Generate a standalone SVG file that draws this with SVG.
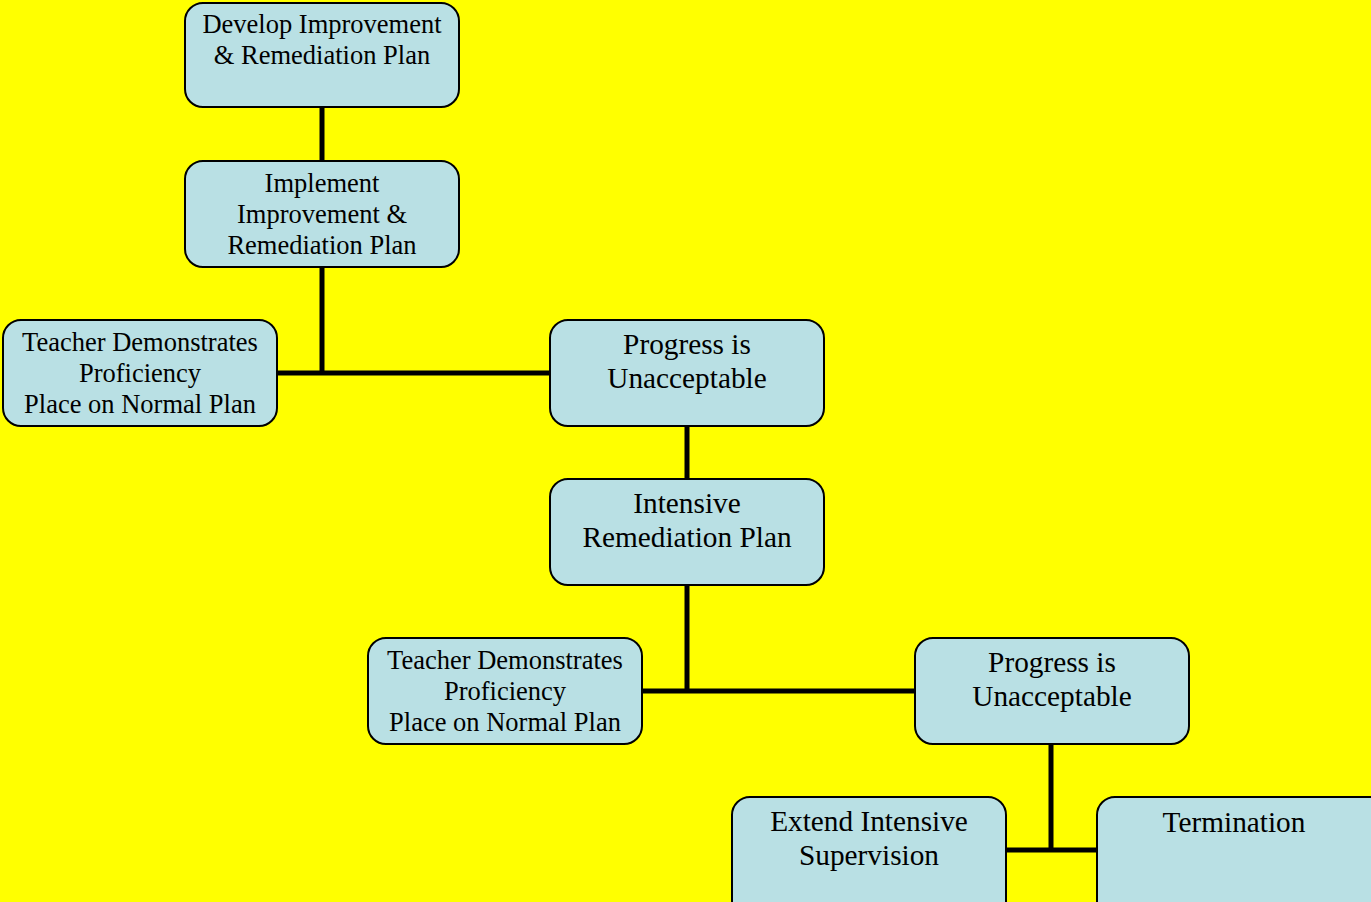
<svg xmlns="http://www.w3.org/2000/svg" width="1371" height="902" viewBox="0 0 1371 902">
<style>
.box{fill:#B9E0E4;stroke:#000;stroke-width:2}
.t{font-family:"Liberation Serif","Times New Roman",serif;fill:#000;text-anchor:middle}
.s{font-size:26.5px}
.l{font-size:29.3px}
.c{stroke:#000;stroke-width:5;fill:none}
</style>
<rect width="1371" height="902" fill="#FFFF00"/>
<g id="connectors">
<path class="c" d="M322 107V161M322 267V373M277 373H550"/>
<path class="c" d="M687 426V479M687 585V691M642 691H915"/>
<path class="c" d="M1051 744V850M1006 850H1097"/>
</g>
<g id="develop">
<rect class="box" x="185" y="3" width="274" height="104" rx="18"/>
<text class="t s" x="322" y="33">Develop Improvement</text>
<text class="t s" x="322" y="64">&amp; Remediation Plan</text>
</g>
<g id="implement">
<rect class="box" x="185" y="161" width="274" height="106" rx="18"/>
<text class="t s" x="322" y="192">Implement</text>
<text class="t s" x="322" y="223">Improvement &amp;</text>
<text class="t s" x="322" y="254">Remediation Plan</text>
</g>
<g id="teacher1">
<rect class="box" x="3" y="320" width="274" height="106" rx="18"/>
<text class="t s" x="140" y="351">Teacher Demonstrates</text>
<text class="t s" x="140" y="382">Proficiency</text>
<text class="t s" x="140" y="413">Place on Normal Plan</text>
</g>
<g id="progress1">
<rect class="box" x="550" y="320" width="274" height="106" rx="18"/>
<text class="t l" x="687" y="354">Progress is</text>
<text class="t l" x="687" y="388">Unacceptable</text>
</g>
<g id="intensive">
<rect class="box" x="550" y="479" width="274" height="106" rx="18"/>
<text class="t l" x="687" y="513">Intensive</text>
<text class="t l" x="687" y="547">Remediation Plan</text>
</g>
<g id="teacher2">
<rect class="box" x="368" y="638" width="274" height="106" rx="18"/>
<text class="t s" x="505" y="669">Teacher Demonstrates</text>
<text class="t s" x="505" y="700">Proficiency</text>
<text class="t s" x="505" y="731">Place on Normal Plan</text>
</g>
<g id="progress2">
<rect class="box" x="915" y="638" width="274" height="106" rx="18"/>
<text class="t l" x="1052" y="672">Progress is</text>
<text class="t l" x="1052" y="706">Unacceptable</text>
</g>
<g id="extend">
<rect class="box" x="732" y="797" width="274" height="125" rx="18"/>
<text class="t l" x="869" y="831">Extend Intensive</text>
<text class="t l" x="869" y="865">Supervision</text>
</g>
<g id="termination">
<rect class="box" x="1097" y="797" width="290" height="125" rx="18"/>
<text class="t l" x="1234" y="832">Termination</text>
</g>
</svg>
